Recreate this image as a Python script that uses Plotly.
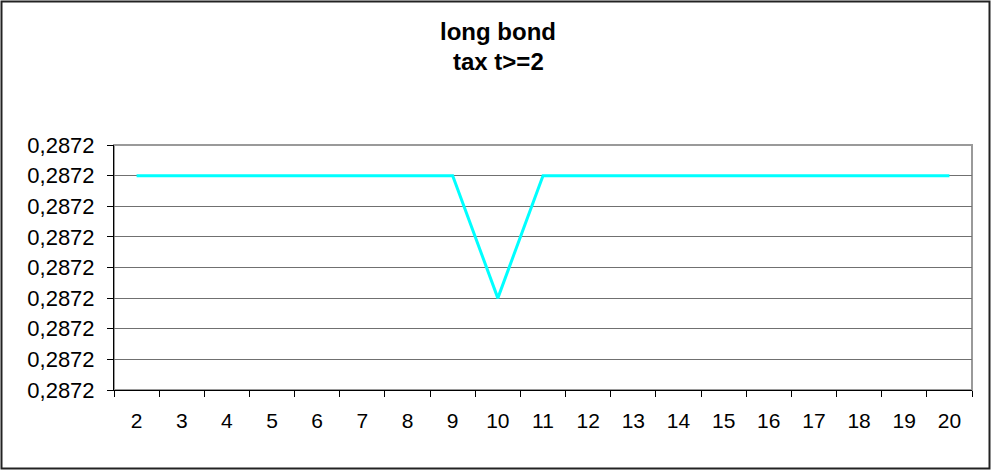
import plotly.graph_objects as go

# Periods and the long-bond tax rate series
periods = [str(t) for t in range(2, 21)]
long_bond_tax = [0.287207] * 8 + [0.287203] + [0.287207] * 10

y_min = 0.287200
y_max = 0.287208
y_step = 0.000001

fig = go.Figure()
fig.add_trace(go.Scatter(
    x=periods,
    y=long_bond_tax,
    mode="lines",
    line=dict(color="#00FFFF", width=3),
    showlegend=False,
    hoverinfo="x+y",
))

W, H = 993, 471
L, R, T, B = 114, 21, 145, 81
pw, ph = W - L - R, H - T - B


def px_x(px):
    return (px - L) / pw


def px_y(py):
    return (H - B - py) / ph


font_main = "Liberation Sans, Arial, sans-serif"

fig.update_layout(
    width=W,
    height=H,
    margin=dict(l=L, r=R, t=T, b=B),
    paper_bgcolor="white",
    plot_bgcolor="white",
    separators=",.",
    font=dict(family=font_main, size=22, color="black"),
    xaxis=dict(
        type="category",
        range=[-0.5, len(periods) - 0.5],
        tickson="boundaries",
        ticks="outside",
        ticklen=6,
        tickcolor="black",
        tickwidth=1,
        ticklabelstandoff=12,
        showgrid=False,
        showline=True,
        linecolor="black",
        linewidth=1,
        tickfont=dict(family=font_main, size=21, color="black"),
        zeroline=False,
    ),
    yaxis=dict(
        range=[y_min, y_max],
        tick0=y_min,
        dtick=y_step,
        tickformat=".4f",
        ticks="outside",
        ticklen=6,
        tickcolor="black",
        tickwidth=1,
        ticklabelstandoff=8,
        showgrid=True,
        gridcolor="#707070",
        gridwidth=1,
        showline=True,
        linecolor="black",
        linewidth=1,
        tickfont=dict(family=font_main, size=22, color="black"),
        zeroline=False,
    ),
    shapes=[
        # plot-area frame
        dict(type="rect", xref="paper", yref="paper", x0=0, x1=1, y0=0, y1=1,
             line=dict(color="#9a9a9a", width=2), layer="below"),
        # chart-area frame
        dict(type="rect", xref="paper", yref="paper",
             x0=px_x(1.5), x1=px_x(989.5), y0=px_y(468.5), y1=px_y(1.5),
             line=dict(color="#222222", width=2), layer="above"),
    ],
    annotations=[
        dict(text="<b>long bond</b>", xref="paper", yref="paper",
             x=px_x(498), y=px_y(31), xanchor="center", yanchor="middle",
             showarrow=False, font=dict(family=font_main, size=24, color="black")),
        dict(text="<b>tax t>=2</b>", xref="paper", yref="paper",
             x=px_x(498), y=px_y(62), xanchor="center", yanchor="middle",
             showarrow=False, font=dict(family=font_main, size=24, color="black")),
    ],
)

fig.write_html("out.html")
